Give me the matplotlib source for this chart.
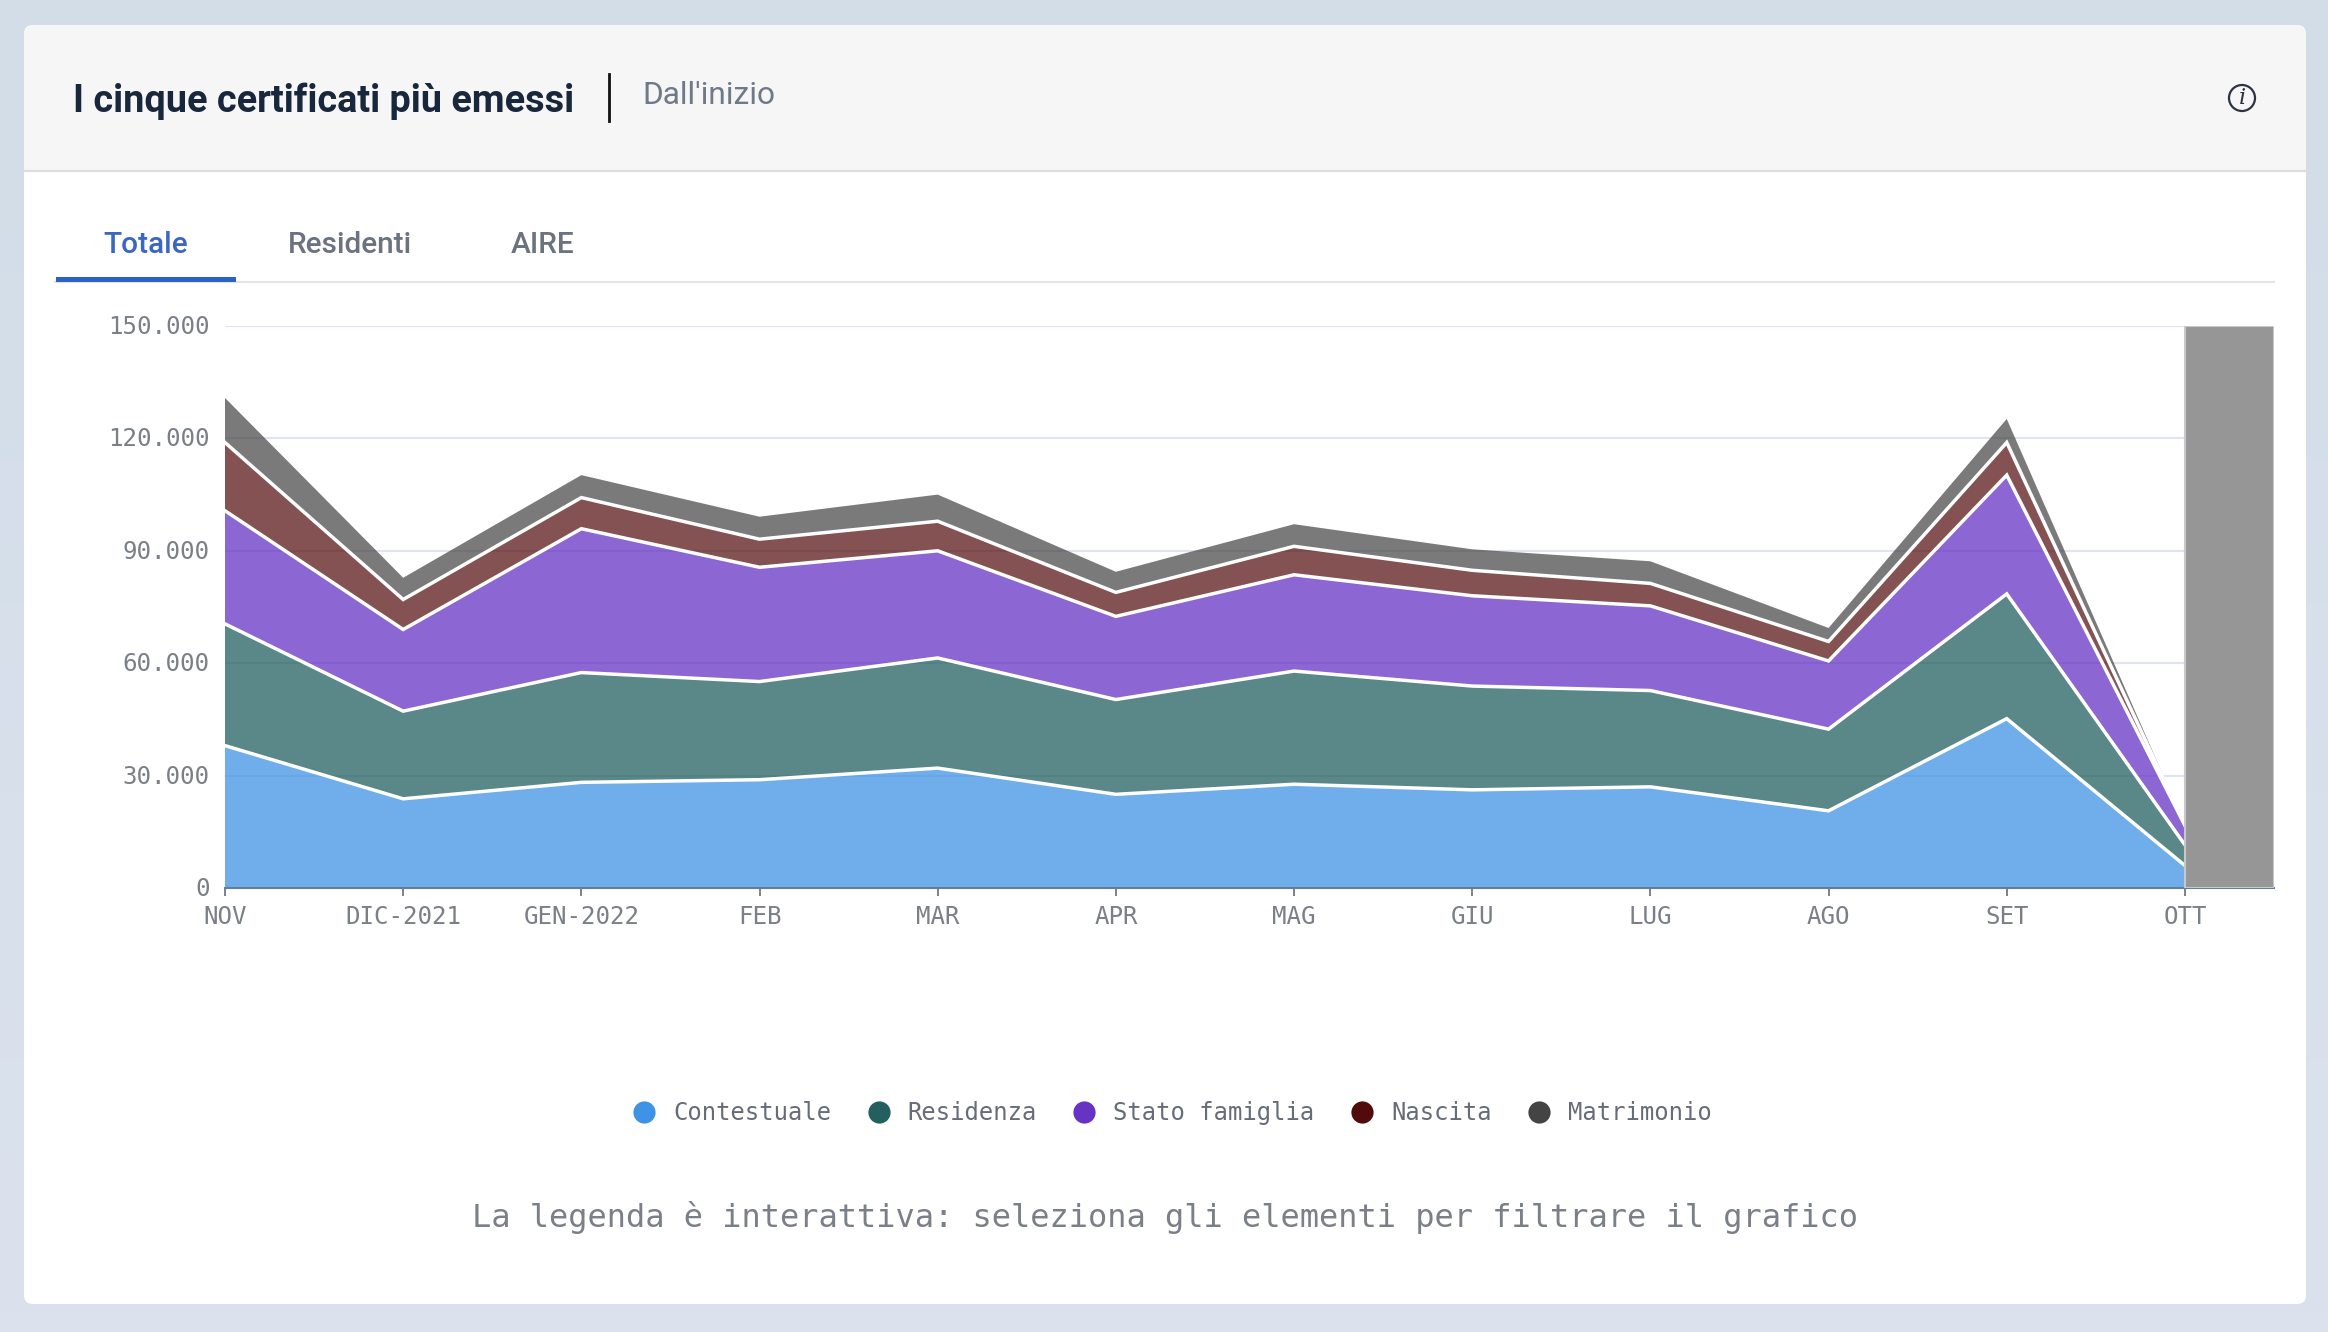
import numpy as np
import matplotlib
matplotlib.use('Agg')
import matplotlib.pyplot as plt
from matplotlib.lines import Line2D
from matplotlib.patches import Circle, FancyBboxPatch, Rectangle
from matplotlib.ticker import FuncFormatter
from matplotlib.transforms import ScaledTranslation

W, H = 2328, 1332

mesi = ['NOV', 'DIC-2021', 'GEN-2022', 'FEB', 'MAR', 'APR', 'MAG', 'GIU', 'LUG', 'AGO', 'SET', 'OTT']
serie = ['Contestuale', 'Residenza', 'Stato famiglia', 'Nascita', 'Matrimonio']
colori = ['#3f93e5', '#235f5f', '#6633c4', '#520b0b', '#444444']
alpha_bande = [0.75, 0.75, 0.75, 0.71, 0.71]

# migliaia di certificati per mese
contestuale = [38.0, 23.8, 28.2, 28.9, 32.0, 25.0, 27.7, 26.2, 27.0, 20.6, 45.2, 6.0]
residenza = [32.5, 23.4, 29.3, 26.2, 29.4, 25.3, 30.2, 27.7, 25.7, 21.8, 33.3, 5.5]
stato_famiglia = [30.2, 21.8, 38.4, 30.5, 28.6, 22.2, 25.7, 24.1, 22.6, 18.2, 31.7, 5.2]
nascita = [18.2, 8.0, 8.3, 7.5, 7.9, 6.4, 7.6, 6.8, 6.0, 5.2, 8.7, 0.1]
matrimonio = [11.9, 5.8, 6.0, 6.0, 7.1, 5.5, 5.9, 5.6, 5.9, 3.6, 6.3, 0.1]

y_ticks = [0, 30000, 60000, 90000, 120000, 150000]
tabs = ['Totale', 'Residenti', 'AIRE']

MONO = ['DejaVu Sans Mono']
SANS = ['Roboto']

fig = plt.figure(figsize=(W / 100, H / 100), dpi=100)

# sfondo e card, in coordinate pixel
bg = fig.add_axes([0, 0, 1, 1], zorder=0)
bg.set_xlim(0, W)
bg.set_ylim(H, 0)
bg.axis('off')
sfumatura = np.linspace(0, 1, 64).reshape(-1, 1)
bg.imshow(sfumatura, extent=(0, W, H, 0), aspect='auto', zorder=0,
          cmap=matplotlib.colors.LinearSegmentedColormap.from_list('bg', ['#d2dde8', '#dbe2ee']))
bg.add_patch(FancyBboxPatch((24, 25), 2282, 1279, boxstyle='round,pad=0,rounding_size=9',
                            fc='white', ec='none', zorder=1))
bg.add_patch(FancyBboxPatch((24, 25), 2282, 146, boxstyle='round,pad=0,rounding_size=9',
                            fc='#f6f6f6', ec='none', zorder=2))
bg.add_patch(Rectangle((24, 100), 2282, 71, fc='#f6f6f6', ec='none', zorder=2))
bg.plot([24, 2306], [171, 171], color='#dcdcdc', lw=1.5, zorder=3)

# intestazione
bg.text(73, 101, 'I cinque certificati più emessi', fontsize=27.3, fontweight='bold',
        family=SANS, color='#19273c', va='center', ha='left', zorder=4)
bg.plot([609, 609], [74, 121], color='#111111', lw=2, zorder=4)
bg.text(642, 95, "Dall'inizio", fontsize=22.8, family=SANS, color='#6e7a88',
        va='center', ha='left', zorder=4)
bg.add_patch(Circle((2242, 98), 13, fc='none', ec='#2b3442', lw=1.6, zorder=4))
bg.text(2242, 98, 'i', fontsize=16, family='DejaVu Serif', style='italic', color='#2b3442',
        va='center', ha='center', zorder=4)

# tab
tab_x = [145.5, 350, 543]
for i in range(len(tabs)):
    bg.text(tab_x[i], 245, tabs[i], fontsize=21.5, family=SANS, fontweight='medium',
            color='#3b66c4' if i == 0 else '#6c7380', va='center', ha='center', zorder=4)
bg.plot([55, 2274], [282, 282], color='#e3e3e8', lw=1.5, zorder=3)
bg.add_patch(Rectangle((56, 277), 180, 4.5, fc='#2a62c8', ec='none', zorder=4))

# grafico
ax = fig.add_axes([225 / W, 1 - 888 / H, (2274 - 225) / W, (888 - 326) / H], zorder=2)
ax.patch.set_alpha(0)
x = np.arange(len(mesi))
valori = np.array([contestuale, residenza, stato_famiglia, nascita, matrimonio]) * 1000
cumulati = np.cumsum(valori, axis=0)

bande = ax.stackplot(x, valori, colors=colori, lw=0, zorder=3)
for banda, a in zip(bande, alpha_bande):
    banda.set_alpha(a)
for i in range(len(serie) - 1):
    ax.plot(x, cumulati[i], color='white', lw=2.5, zorder=4, solid_joinstyle='miter')

ax.set_xlim(0, 11.5)
ax.set_ylim(0, 150000)
ax.set_yticks(y_ticks)
ax.yaxis.set_major_formatter(FuncFormatter(lambda v, p: f'{int(v):,}'.replace(',', '.')))
ax.set_xticks(x)
ax.set_xticklabels(mesi)
ax.grid(axis='y', color='#e0e4f0', lw=1.5, zorder=0)
ax.set_axisbelow(True)
ax.tick_params(axis='y', length=0, pad=11, labelsize=17.4, labelcolor='#7a7f88')
ax.tick_params(axis='x', length=6, width=1.2, color='#666c78', pad=6.5, labelsize=17.4, labelcolor='#7a7f88')
for t in ax.get_xticklabels() + ax.get_yticklabels():
    t.set_family(MONO)
# etichette y un po' piu' in alto
su = ScaledTranslation(0, 1.5 / 100, fig.dpi_scale_trans)
for t in ax.get_yticklabels():
    t.set_transform(t.get_transform() + su)
for s in ['top', 'right', 'left']:
    ax.spines[s].set_visible(False)
ax.spines['bottom'].set_color('#5f7f9f')
ax.spines['bottom'].set_linewidth(1.5)
ax.spines['bottom'].set_zorder(5)

# mese non ancora concluso
ax.axvspan(x[-1], 11.5, fc='#969696', ec='#c8c8c8', lw=1.5, zorder=6)

# legenda
handles = [Line2D([], [], ls='none', marker='o', ms=16, mfc=c, mec='none') for c in colori]
fig.legend(handles, serie, loc='center', bbox_to_anchor=(1172 / W, 1 - 1113 / H), ncol=5,
           frameon=False, handlelength=1, handletextpad=0.72, columnspacing=1.48,
           prop={'family': MONO, 'size': 17.2}, labelcolor='#666c78', borderpad=0)

fig.text(1165 / W, 1 - 1218 / H, 'La legenda è interattiva: seleziona gli elementi per filtrare il grafico',
         fontsize=23, family=MONO, color='#7a7f88', ha='center', va='center')

fig.savefig('out.png', dpi=100)
plt.close()
